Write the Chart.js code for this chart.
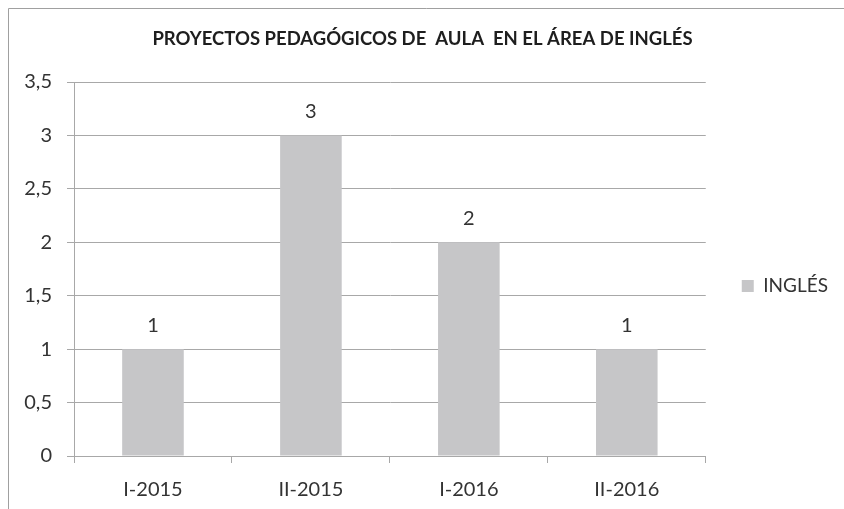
<!DOCTYPE html>
<html>
<head>
<meta charset="utf-8">
<script src="https://cdn.jsdelivr.net/npm/chart.js@4"></script>
<style>
  html, body { margin: 0; padding: 0; background: #ffffff; }
  #wrap { width: 844px; height: 509px; position: relative; }
</style>
</head>
<body>
<div id="wrap"><canvas id="c" width="844" height="509"></canvas></div>
<script>
const chartTitle = 'PROYECTOS PEDAGÓGICOS DE  AULA  EN EL ÁREA DE INGLÉS';
const categories = ['I-2015', 'II-2015', 'I-2016', 'II-2016'];
const seriesName = 'INGLÉS';
const seriesValues = [1, 3, 2, 1];
const yTickLabels = ['0', '0,5', '1', '1,5', '2', '2,5', '3', '3,5'];

const textColor = '#333333';
const gridColor = '#a8a8a8';
const barColor = '#c6c6c8';

const frame = {
  id: 'frame',
  beforeDraw(chart) {
    const ctx = chart.ctx;
    ctx.save();
    ctx.strokeStyle = '#a0a0a0';
    ctx.lineWidth = 1;
    ctx.beginPath();
    ctx.moveTo(8.5, 509);
    ctx.lineTo(8.5, 8.5);
    ctx.lineTo(844, 8.5);
    ctx.stroke();
    ctx.restore();
  }
};

const valueLabels = {
  id: 'valueLabels',
  afterDatasetsDraw(chart) {
    const ctx = chart.ctx;
    const meta = chart.getDatasetMeta(0);
    ctx.save();
    ctx.font = '20px Lato';
    ctx.fillStyle = textColor;
    ctx.textAlign = 'center';
    ctx.textBaseline = 'middle';
    meta.data.forEach((bar, i) => {
      ctx.fillText(String(chart.data.datasets[0].data[i]), bar.x, bar.y - 24);
    });
    ctx.restore();
  }
};

new Chart(document.getElementById('c'), {
  type: 'bar',
  data: {
    labels: categories,
    datasets: [{
      label: seriesName,
      data: seriesValues,
      backgroundColor: barColor,
      borderWidth: 0,
      barPercentage: 0.39,
      categoryPercentage: 1
    }]
  },
  options: {
    responsive: false,
    animation: false,
    devicePixelRatio: 1,
    layout: { padding: { left: 7, right: 6, top: 0, bottom: 0 } },
    plugins: {
      title: {
        display: true,
        text: chartTitle,
        color: '#1e1e1e',
        font: { family: 'Lato', size: 18.5, weight: 'bold' },
        padding: { top: 28, bottom: 31.8 }
      },
      legend: {
        display: true,
        position: 'right',
        title: { display: true, text: ' ', font: { size: 12 }, padding: { top: 10, bottom: 38.6 } },
        labels: {
          boxWidth: 12,
          boxHeight: 12,
          padding: 36,
          color: textColor,
          font: { family: 'Lato', size: 19 }
        }
      },
      tooltip: { enabled: false }
    },
    scales: {
      x: {
        grid: { offset: true, drawOnChartArea: false, drawTicks: true, tickLength: 7, color: gridColor },
        border: { display: true, color: gridColor },
        ticks: { color: textColor, font: { family: 'Lato', size: 20 }, padding: 15, maxRotation: 0 },
        afterFit(scale) { scale.height = 53; }
      },
      y: {
        min: 0,
        max: 3.5,
        grid: { drawTicks: true, tickLength: 7, color: gridColor },
        border: { display: true, color: gridColor },
        ticks: {
          stepSize: 0.5,
          color: textColor,
          font: { family: 'Lato', size: 20 },
          padding: 15,
          callback: (value, index) => yTickLabels[index]
        },
        afterFit(scale) { scale.width = 67; }
      }
    }
  },
  plugins: [frame, valueLabels]
});
</script>
</body>
</html>
